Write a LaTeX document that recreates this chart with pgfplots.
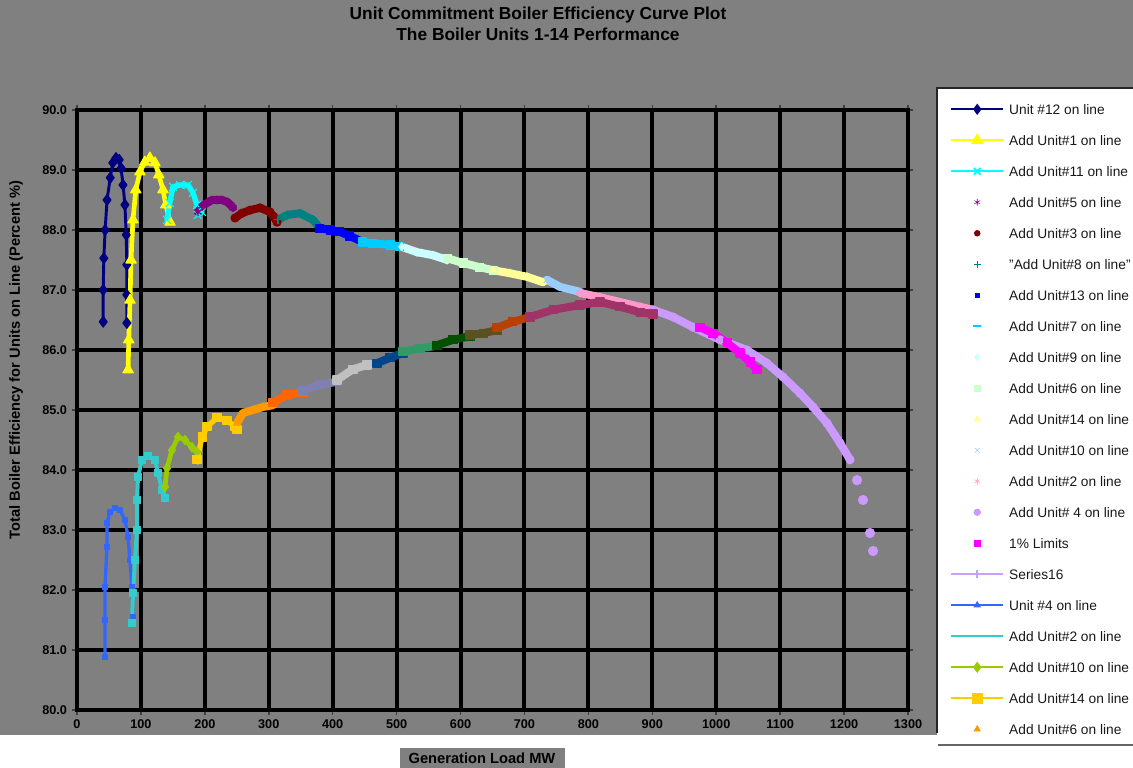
\documentclass[border=0pt]{standalone}
\usepackage{fontspec}
\setmainfont{Liberation Sans}
\usepackage{pgfplots}
\pgfplotsset{compat=1.18}
\definecolor{bgray}{HTML}{808080}
\definecolor{cA}{HTML}{000080}
\definecolor{cB}{HTML}{FFFF00}
\definecolor{cC}{HTML}{00FFFF}
\definecolor{cD}{HTML}{800080}
\definecolor{cE}{HTML}{800000}
\definecolor{cF}{HTML}{008080}
\definecolor{cG}{HTML}{0000FF}
\definecolor{cH}{HTML}{00CCFF}
\definecolor{cI}{HTML}{CCFFFF}
\definecolor{cJ}{HTML}{CCFFCC}
\definecolor{cK}{HTML}{FFFF99}
\definecolor{cL}{HTML}{99CCFF}
\definecolor{cM}{HTML}{FF99CC}
\definecolor{cN}{HTML}{CC99FF}
\definecolor{cO}{HTML}{FF00FF}
\definecolor{cP}{HTML}{C8A0FF}
\definecolor{cQ}{HTML}{3366FF}
\definecolor{cR}{HTML}{33CCCC}
\definecolor{cS}{HTML}{99CC00}
\definecolor{cT}{HTML}{FFCC00}
\definecolor{cU}{HTML}{FF9900}
\definecolor{cV}{HTML}{FF6600}
\definecolor{cW}{HTML}{8080B0}
\definecolor{cX}{HTML}{C0C0C0}
\definecolor{cY}{HTML}{00468C}
\definecolor{cZ}{HTML}{339966}
\definecolor{ca}{HTML}{005000}
\definecolor{cb}{HTML}{5A5020}
\definecolor{cc}{HTML}{B84000}
\definecolor{cd}{HTML}{A03468}
\pgfplotsset{
 lineleg/.style={legend image code/.code={\draw[mark repeat=2,mark phase=2] plot coordinates {(0pt,0pt) (19.5pt,0pt) (39pt,0pt)};}},
 markleg/.style={legend image code/.code={\draw[mark repeat=2,mark phase=2,only marks] plot coordinates {(0pt,0pt) (19.5pt,0pt) (39pt,0pt)};}},
 band/.style={forget plot, draw=#1, line width=6pt, line join=round, line cap=round, mark size=3pt, mark options={solid, draw=#1, fill=#1, line width=0.8pt}},
 lin/.style={forget plot, draw=#1, line width=2pt, line join=round, mark options={solid, draw=#1, fill=#1, line width=0.8pt}},
}
\begin{document}
\begin{tikzpicture}[x=0.75pt,y=0.75pt]
\fill[white] (0,0) rectangle (1133,768);
\fill[bgray] (0,33) rectangle (1133,768);
\fill[white] (937,23) rectangle (1133,680);
\draw[black!85, line width=2pt] (937,35) -- (937,680) -- (1133,680);
\draw[black!60, line width=1.2pt] (938,23) -- (1133,23);
\fill[bgray] (400,0) rectangle (565,20);
\begin{axis}[
 at={(57.75pt,43.5pt)}, anchor=south west, scale only axis,
 width=623.25pt, height=450pt,
 xmin=0, xmax=1300, ymin=80, ymax=90,
 xtick={0,100,...,1300}, ytick={80,81,...,90},
 axis background/.style={fill=bgray},
 grid=major, major grid style={black, line width=3pt},
 axis line style={black, line width=3pt},
 tick align=outside, major tick length=4pt, tick style={black!75, line width=1.2pt},
 ticklabel style={font=\bfseries\fontsize{9.5}{10}\selectfont, text=black},
 /pgf/number format/assume math mode=true,
 yticklabel style={/pgf/number format/.cd, fixed, fixed zerofill, precision=1},
 xticklabel style={/pgf/number format/.cd, fixed, precision=0, 1000 sep={}},
 legend style={at={(1.0505,1.0275)}, anchor=north west, draw=none, fill=none, inner sep=0pt, row sep=0pt,
   font=\fontsize{10.3}{12}\selectfont, text=black!90,
   nodes={inner sep=0pt, text height=15.5pt, text depth=7.75pt},
   /tikz/every odd column/.append style={column sep=3.75pt}},
 legend cell align=left,
]
% ---- upper curve ----
\addplot[lin=cA, line width=2.2pt, mark=diamond*, mark size=4pt] coordinates {(41,86.47) (41,87.0) (42,87.53) (44,88.0) (47,88.5) (52,88.87) (56,89.12) (61,89.2) (66,89.17) (69,89.03) (72,88.75) (75,88.42) (77,87.92) (78,87.42) (78,86.92) (78,86.45)};
\addplot[lin=cB, line width=3.5pt, mark=triangle*, mark size=4.5pt] coordinates {(80,85.67) (81,86.17) (83,86.83) (84.5,87.5) (87.6,88.17) (92,88.67) (98.6,88.97) (106,89.13) (114,89.2) (122,89.12) (128,88.92) (134.5,88.67) (139,88.42) (145.5,88.13)};
\addplot[band=cC, line width=4pt, mark=x, mark size=4pt] coordinates {(140.8,88.17) (145,88.45) (150.2,88.72) (161,88.75) (173.6,88.75) (181.5,88.62) (187.7,88.42) (189,88.25) (195.6,88.3)};
\addplot[band=cD, mark=asterisk] coordinates {(189.3,88.3) (196,88.4) (203.4,88.45) (211,88.5) (219,88.5) (227,88.5) (234.7,88.47) (240,88.42) (244,88.37)};
\addplot[band=cE, mark=*] coordinates {(247.2,88.2) (258.1,88.28) (270.6,88.33) (286.3,88.37) (301.9,88.3) (308,88.22) (312.9,88.13)};
\addplot[band=cF, mark=+] coordinates {(314.4,88.17) (328.5,88.25) (348.9,88.28) (369.2,88.17) (380.1,88.03)};
\addplot[band=cG, mark=square*] coordinates {(380,88.03) (396,88.0) (411,87.97) (427,87.9) (447,87.8)};
\addplot[band=cH, mark=square*] coordinates {(447,87.8) (463,87.78) (490,87.75) (505,87.72)};
\addplot[band=cI, mark=diamond*] coordinates {(508,87.72) (532,87.63) (557,87.58) (579,87.5)};
\addplot[band=cJ, mark=square*] coordinates {(579,87.53) (604,87.45) (630,87.38) (651,87.33)};
\addplot[band=cK, mark=triangle*] coordinates {(651,87.33) (677,87.28) (704,87.22) (729,87.13)};
\addplot[band=cL, mark=x] coordinates {(735,87.17) (756,87.05) (787,86.97)};
\addplot[band=cM, mark=asterisk] coordinates {(787,86.95) (818,86.88) (849,86.8) (881,86.72) (901,86.67)};
\addplot[band=cN, mark=*] coordinates {(901.1,86.67) (932.4,86.55) (963.7,86.38) (1005.9,86.17) (1048.1,86.0) (1079.4,85.78) (1104.5,85.55) (1131.1,85.28) (1151.4,85.05) (1173.3,84.78) (1193.7,84.45) (1209.3,84.17)};
\addplot[forget plot, only marks, mark=*, mark size=3.6pt, cN] coordinates {(1220.2,83.83) (1229.6,83.5) (1240.6,82.95) (1245.3,82.65)};
\addplot[lin=cP, line width=1pt, mark=+] coordinates {(901.1,86.67) (963.7,86.38) (1048.1,86.0) (1104.5,85.55)};
\addplot[band=cO, mark=square*] coordinates {(974.6,86.38) (994.9,86.28) (1016.9,86.12) (1037.2,85.95) (1052.9,85.8) (1063.8,85.67)};
% ---- lower curve ----
\addplot[lin=cQ, line width=2.5pt, mark=square*, mark size=2pt] coordinates {(43.8,80.88) (43.8,81.5) (43.8,82.05) (46.9,82.72) (46.9,83.12) (51.6,83.3) (59.4,83.37) (67.3,83.33) (75.1,83.17) (79.8,82.88) (82.9,82.5) (86,82.05) (87.6,81.55)};
\addplot[lin=cR, line width=3pt, mark=square*, mark size=2.5pt] coordinates {(86,81.45) (87.6,81.95) (90.7,82.5) (93.9,83.0) (93.9,83.5) (95.4,83.88) (101.7,84.17) (111.1,84.23) (122,84.17) (126.7,83.95) (133,83.67) (137.7,83.53)};
\addplot[lin=cS, line width=3.5pt, mark=diamond*, mark size=3.5pt] coordinates {(137.7,83.72) (140.8,84.03) (148.6,84.33) (158,84.55) (169,84.5) (179.9,84.38) (187.7,84.3) (189.3,84.17)};
\addplot[lin=cT, line width=4pt, mark=square*, mark size=3pt] coordinates {(187.7,84.17) (195.6,84.55) (203.4,84.72) (219,84.87) (234.7,84.83) (247.2,84.72) (250.3,84.67)};
\addplot[band=cU, mark=triangle*] coordinates {(250.3,84.78) (259.7,84.95) (275.3,85.0) (291,85.05) (306.6,85.08)};
\addplot[band=cV, mark=square*] coordinates {(306.6,85.12) (328.5,85.25) (353.6,85.3)};
\addplot[band=cW, mark=square*] coordinates {(353.6,85.33) (380.1,85.42) (406.7,85.47)};
\addplot[band=cX, mark=square*] coordinates {(406.7,85.5) (431.8,85.68) (453.7,85.75) (469.3,85.78)};
\addplot[band=cY, mark=square*] coordinates {(469.3,85.78) (489.7,85.87) (510,85.95)};
\addplot[band=cZ, mark=square*] coordinates {(510,85.97) (536.6,86.03) (563.2,86.07)};
\addplot[band=ca, mark=square*] coordinates {(563.2,86.08) (588.2,86.17) (614.8,86.23)};
\addplot[band=cb, mark=square*] coordinates {(614.8,86.25) (635.2,86.28) (657,86.33)};
\addplot[band=cc, mark=square*] coordinates {(657,86.37) (682,86.47) (708.7,86.55)};
\addplot[band=cd, mark=square*] coordinates {(708.7,86.55) (744.7,86.67) (786.9,86.75) (818.2,86.8) (849.5,86.72) (880.8,86.63) (901.1,86.6)};
% ---- legend ----
\addlegendimage{cA, line width=1.5pt, mark=diamond*, mark size=3pt, lineleg}
\addlegendentry{Unit \#12 on line}
\addlegendimage{cB, line width=1.5pt, mark=triangle*, mark size=4pt, lineleg}
\addlegendentry{Add Unit\#1 on line}
\addlegendimage{cC, line width=1.5pt, mark=x, mark size=3.5pt, lineleg}
\addlegendentry{Add Unit\#11 on line}
\addlegendimage{cD, only marks, mark=asterisk, mark size=2.5pt, markleg}
\addlegendentry{Add Unit\#5 on line}
\addlegendimage{cE, only marks, mark=*, mark size=2.2pt, markleg}
\addlegendentry{Add Unit\#3 on line}
\addlegendimage{cF, only marks, mark=+, mark size=2.5pt, markleg}
\addlegendentry{"Add Unit\#8 on line"}
\addlegendimage{cG, only marks, mark=square*, mark size=1.4pt, markleg}
\addlegendentry{Add Unit\#13 on line}
\addlegendimage{cH, only marks, mark=-, mark size=3pt, line width=1.6pt, markleg}
\addlegendentry{Add Unit\#7 on line}
\addlegendimage{cI, only marks, mark=diamond*, mark size=2.5pt, markleg}
\addlegendentry{Add Unit\#9 on line}
\addlegendimage{cJ, only marks, mark=square*, mark size=2.2pt, markleg}
\addlegendentry{Add Unit\#6 on line}
\addlegendimage{cK, only marks, mark=triangle*, mark size=2.8pt, markleg}
\addlegendentry{Add Unit\#14 on line}
\addlegendimage{cL, only marks, mark=x, mark size=2.5pt, markleg}
\addlegendentry{Add Unit\#10 on line}
\addlegendimage{cM, only marks, mark=asterisk, mark size=2.5pt, markleg}
\addlegendentry{Add Unit\#2 on line}
\addlegendimage{cN, only marks, mark=*, mark size=2.5pt, markleg}
\addlegendentry{Add Unit\# 4 on line}
\addlegendimage{cO, only marks, mark=square*, mark size=2.2pt, markleg}
\addlegendentry{1\% Limits}
\addlegendimage{cP, line width=1.5pt, mark=|, mark size=3pt, lineleg}
\addlegendentry{Series16}
\addlegendimage{cQ, line width=1.5pt, mark=triangle*, mark size=1.8pt, lineleg}
\addlegendentry{Unit \#4 on line}
\addlegendimage{cR, line width=1.5pt, lineleg}
\addlegendentry{Add Unit\#2 on line}
\addlegendimage{cS, line width=1.5pt, mark=diamond*, mark size=3pt, lineleg}
\addlegendentry{Add Unit\#10 on line}
\addlegendimage{cT, line width=1.5pt, mark=square*, mark size=3.5pt, lineleg}
\addlegendentry{Add Unit\#14 on line}
\addlegendimage{cU, only marks, mark=triangle*, mark size=2.8pt, markleg}
\addlegendentry{Add Unit\#6 on line}
\end{axis}
\node[font=\bfseries\fontsize{13}{16}\selectfont, align=center, text=black] at (538,744) {Unit Commitment Boiler Efficiency Curve Plot\\The Boiler Units 1-14 Performance};
\node[font=\bfseries\fontsize{11}{13}\selectfont, rotate=90, text=black] at (16,408) {Total Boiler Efficiency for Units on Line (Percent \%)};
\node[font=\bfseries\fontsize{11}{13}\selectfont, text=black] at (482,10) {Generation Load MW};
\pgfresetboundingbox
\useasboundingbox (0,0) rectangle (1133,768);
\end{tikzpicture}
\end{document}
